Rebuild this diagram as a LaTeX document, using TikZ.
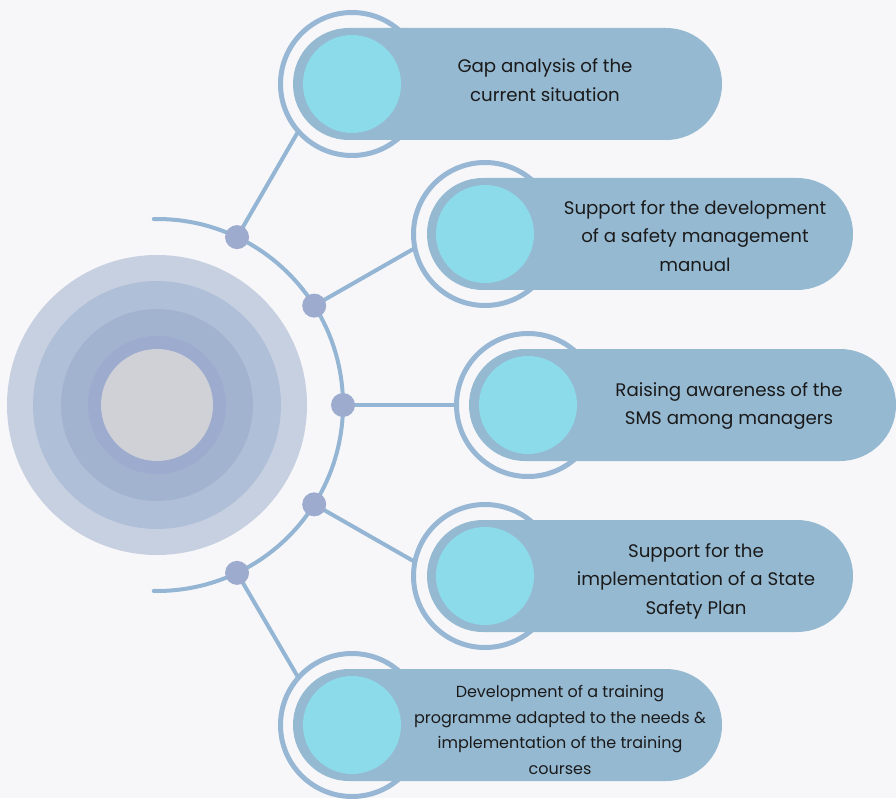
\documentclass[tikz,border=0pt]{standalone}
\usepackage{fontspec}
\setmainfont{Poppins}
\usetikzlibrary{calc}
\definecolor{bg}{HTML}{F7F7FA}
\definecolor{pillc}{HTML}{96B9D2}
\definecolor{ringc}{HTML}{97B7D4}
\definecolor{linec}{HTML}{94B6D4}
\definecolor{dotc}{HTML}{9DABCE}
\definecolor{cyanc}{HTML}{8CDBEA}
\definecolor{c1}{HTML}{C7D0E0}
\definecolor{c2}{HTML}{AFBFD8}
\definecolor{c3}{HTML}{A2B3D0}
\definecolor{c4}{HTML}{9DABCE}
\definecolor{silverA}{HTML}{CFD1D7}
\definecolor{silverB}{HTML}{E9EBF1}
\definecolor{txt}{HTML}{1A1A1A}
\begin{document}
\begin{tikzpicture}[x=1pt,y=-1pt,
  pill/.style={fill=pillc, rounded corners=55.9pt, minimum height=112pt, inner sep=0pt},
  ringn/.style={circle, draw=ringc, line width=5pt, minimum size=143pt, inner sep=0pt},
  core/.style={circle, fill=cyanc, minimum size=98pt, inner sep=0pt},
  dotn/.style={circle, fill=dotc, minimum size=24pt, inner sep=0pt},
  link/.style={draw=linec, line width=4pt, line cap=round},
  lbl/.style={align=center, text=txt, inner sep=0pt, font=\fontsize{18.2}{28.5}\selectfont},
  disc/.style={circle, inner sep=0pt}]
\path[fill=bg] (0,0) rectangle (896,798);
\coordinate (c) at (157,405);
% central concentric discs
\node[disc, fill=c1, minimum size=300pt] (o1) at (c) {};
\node[disc, fill=c2, minimum size=248pt] (o2) at (c) {};
\node[disc, fill=c3, minimum size=192pt] (o3) at (c) {};
\node[disc, fill=c4, minimum size=138pt] (o4) at (c) {};
\node[disc, minimum size=112pt, shading=axis, top color=silverA, middle color=silverB, bottom color=silverA, shading angle=-35] (o5) at (c) {};
% arc
\draw[link] (c) ++(-91:186) arc[start angle=-91, end angle=91, radius=186];
% rings
\node[ringn] (r1) at (352,84) {};
\node[ringn] (r2) at (485,234) {};
\node[ringn] (r3) at (528,405) {};
\node[ringn] (r4) at (485,576) {};
\node[ringn] (r5) at (352,725) {};
% dot coordinates
\coordinate (k1) at ($(c)+(-64.5:186)$);
\coordinate (k2) at ($(c)+(-32.3:186)$);
\coordinate (k3) at ($(c)+(0:186)$);
\coordinate (k4) at ($(c)+(32.3:186)$);
\coordinate (k5) at ($(c)+(64.5:186)$);
% links
\draw[link] (k1) -- (r1.222);
\draw[link] (k2) -- (r2.192);
\draw[link] (k3) -- (r3.180);
\draw[link] (k4) -- (r4.168);
\draw[link] (k5) -- (r5.138);
% dots
\node[dotn] (d1) at (k1) {};
\node[dotn] (d2) at (k2) {};
\node[dotn] (d3) at (k3) {};
\node[dotn] (d4) at (k4) {};
\node[dotn] (d5) at (k5) {};
% pills
\node[pill, minimum width=429pt] (p1) at (507.5,84) {};
\node[pill, minimum width=426pt] (p2) at (640,234) {};
\node[pill, minimum width=427pt] (p3) at (682.5,405) {};
\node[pill, minimum width=426pt] (p4) at (640,576) {};
\node[pill, minimum width=429pt] (p5) at (507.5,725) {};
% cores
\node[core] (q1) at (352,84) {};
\node[core] (q2) at (485,234) {};
\node[core] (q3) at (528,405) {};
\node[core] (q4) at (485,576) {};
\node[core] (q5) at (352,725) {};
% labels
\node[lbl] (t1) at (545,80) {Gap analysis of the\\current situation};
\node[lbl] (t2) at (695,236) {Support for the development\\of a safety management\\manual};
\node[lbl] (t3) at (729,406) {Raising awareness of the\\SMS among managers};
\node[lbl] (t4) at (696,581) {Support for the\\implementation of a State\\Safety Plan};
\node[lbl, font=\fontsize{16}{25.5}\selectfont] (t5) at (560,730) {Development of a training\\programme adapted to the needs \&\\implementation of the training\\courses};
\end{tikzpicture}
\end{document}
